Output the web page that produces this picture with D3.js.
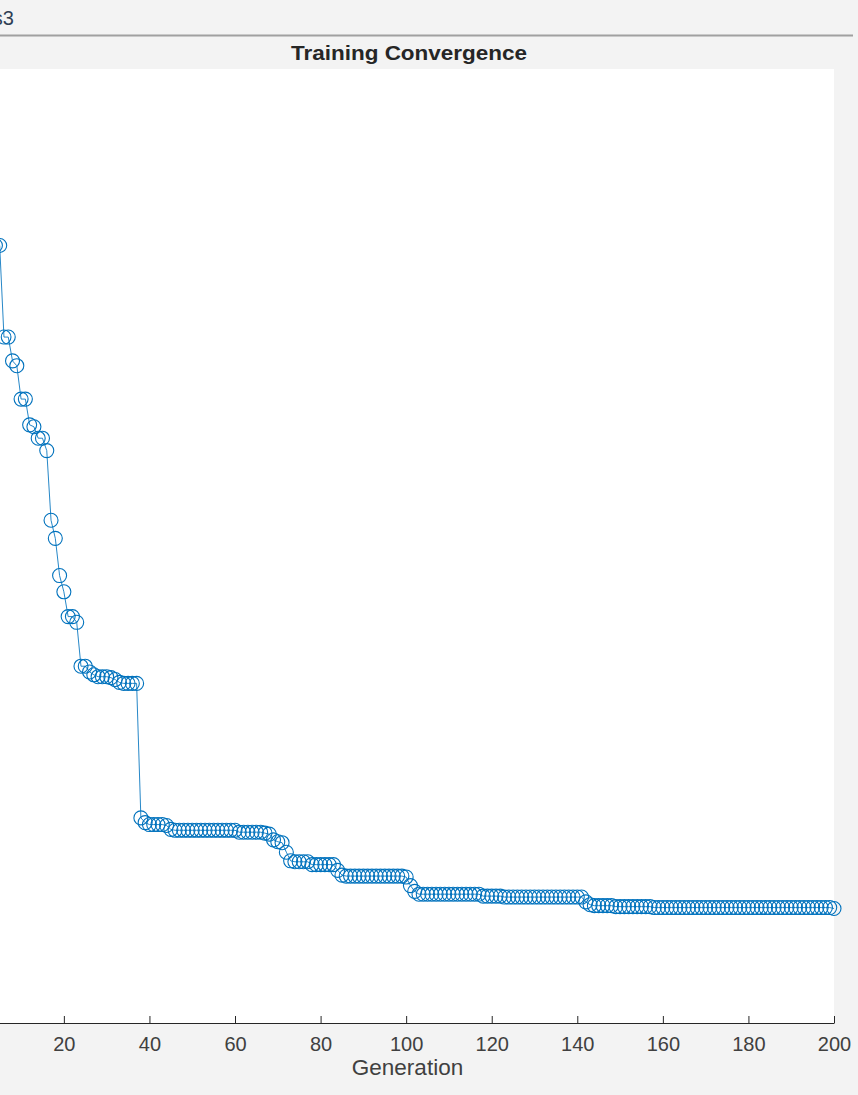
<!DOCTYPE html>
<html>
<head>
<meta charset="utf-8">
<script src="https://cdn.jsdelivr.net/npm/d3@7"></script>
<style>
  html, body { margin: 0; padding: 0; background: #f3f3f3; overflow: hidden; }
  svg { display: block; }
  text { font-family: "Liberation Sans", Arial, Helvetica, sans-serif; }
</style>
</head>
<body>
<svg id="chart" width="858" height="1095"></svg>
<script>
// Best fitness per generation of the genetic search
const bestFitness = [
  9.15, 8.57, 8.15, 8.15, 8.15, 7.19, 7.19, 6.94, 6.89, 6.54,
  6.54, 6.27, 6.25, 6.13, 6.13, 6.00, 5.27, 5.08, 4.69, 4.52,
  4.26, 4.26, 4.20, 3.74, 3.74, 3.68, 3.65, 3.63, 3.63, 3.63,
  3.62, 3.60, 3.57, 3.56, 3.56, 3.56, 3.56, 2.15, 2.10, 2.08,
  2.08, 2.08, 2.08, 2.07, 2.03, 2.02, 2.02, 2.02, 2.02, 2.02,
  2.02, 2.02, 2.02, 2.02, 2.02, 2.02, 2.02, 2.02, 2.02, 2.02,
  2.00, 2.00, 2.00, 2.00, 2.00, 2.00, 1.99, 1.98, 1.92, 1.90,
  1.89, 1.79, 1.70, 1.69, 1.69, 1.69, 1.69, 1.66, 1.66, 1.66,
  1.66, 1.66, 1.66, 1.60, 1.55, 1.54, 1.54, 1.54, 1.54, 1.54,
  1.54, 1.54, 1.54, 1.54, 1.54, 1.54, 1.54, 1.54, 1.54, 1.53,
  1.44, 1.38, 1.35, 1.35, 1.35, 1.35, 1.35, 1.35, 1.35, 1.35,
  1.35, 1.35, 1.35, 1.35, 1.35, 1.35, 1.35, 1.33, 1.33, 1.33,
  1.33, 1.33, 1.32, 1.32, 1.32, 1.32, 1.32, 1.32, 1.32, 1.32,
  1.32, 1.32, 1.32, 1.32, 1.32, 1.32, 1.32, 1.32, 1.32, 1.32,
  1.32, 1.27, 1.24, 1.23, 1.23, 1.23, 1.23, 1.23, 1.22, 1.22,
  1.22, 1.22, 1.22, 1.22, 1.22, 1.22, 1.22, 1.21, 1.21, 1.21,
  1.21, 1.21, 1.21, 1.21, 1.21, 1.21, 1.21, 1.21, 1.21, 1.21,
  1.21, 1.21, 1.21, 1.21, 1.21, 1.21, 1.21, 1.21, 1.21, 1.21,
  1.21, 1.21, 1.21, 1.21, 1.21, 1.21, 1.21, 1.21, 1.21, 1.21,
  1.21, 1.21, 1.21, 1.21, 1.21, 1.21, 1.21, 1.21, 1.21, 1.20
];
const generations = d3.range(1, bestFitness.length + 1);
const xTicks = [20, 40, 60, 80, 100, 120, 140, 160, 180, 200];
const xDomain = [0, 200];
const yDomain = [0, 10];

const titleText = "Training Convergence";
const xLabelText = "Generation";
const tabText = "Axes3";

const svg = d3.select("#chart");
const W = 858, H = 1095;

// Axes box (left edge lies just outside the visible window)
const plot = { left: -21.7, right: 834, top: 69, bottom: 1023 };

const x = d3.scaleLinear().domain(xDomain).range([plot.left, plot.right]);
const y = d3.scaleLinear().domain(yDomain).range([plot.bottom, plot.top]);

// Window background
svg.append("rect").attr("x", 0).attr("y", 0).attr("width", W).attr("height", H).attr("fill", "#f3f3f3");

// Tab strip label and separator
svg.append("text")
  .attr("x", 14).attr("y", 25)
  .attr("text-anchor", "end")
  .attr("font-size", 20)
  .attr("fill", "#2f3f55")
  .text(tabText);
svg.append("line")
  .attr("x1", 0).attr("x2", 853).attr("y1", 35.5).attr("y2", 35.5)
  .attr("stroke", "#a0a0a0").attr("stroke-width", 2);

// Axes background
svg.append("rect")
  .attr("x", plot.left).attr("y", plot.top)
  .attr("width", plot.right - plot.left).attr("height", plot.bottom - plot.top)
  .attr("fill", "#ffffff");

// Title
svg.append("text")
  .attr("x", 409).attr("y", 59.5)
  .attr("text-anchor", "middle")
  .attr("font-size", 21).attr("font-weight", "bold")
  .attr("fill", "#262626")
  .attr("textLength", 236).attr("lengthAdjust", "spacingAndGlyphs")
  .text(titleText);

// X axis (ticks point inward)
const xAxis = d3.axisBottom(x)
  .tickValues(xTicks)
  .tickSizeInner(-7)
  .tickSizeOuter(0)
  .tickPadding(0)
  .tickFormat(d3.format("d"));
const gx = svg.append("g")
  .attr("transform", `translate(0,${plot.bottom})`)
  .call(xAxis);
gx.select(".domain").attr("stroke", "#262626").attr("stroke-width", 1);
gx.selectAll(".tick line").attr("stroke", "#262626").attr("stroke-width", 1);
gx.selectAll(".tick text")
  .attr("y", 28).attr("dy", 0)
  .attr("font-size", 20)
  .attr("font-family", "Liberation Sans, Arial, sans-serif")
  .attr("fill", "#404040");

// Y axis line at the left edge of the axes
svg.append("line")
  .attr("x1", plot.left).attr("x2", plot.left)
  .attr("y1", plot.top).attr("y2", plot.bottom)
  .attr("stroke", "#262626");

// X label
svg.append("text")
  .attr("x", 407.5).attr("y", 1075)
  .attr("text-anchor", "middle")
  .attr("font-size", 22.5)
  .attr("fill", "#404040")
  .text(xLabelText);

// Convergence curve
const pts = generations.map((g, i) => ({ g, v: bestFitness[i] }));
const line = d3.line().x(d => x(d.g)).y(d => y(d.v));
svg.append("path")
  .datum(pts)
  .attr("d", line)
  .attr("fill", "none")
  .attr("stroke", "#0072BD")
  .attr("stroke-width", 1)
  .attr("stroke-opacity", 0.85);

svg.append("g")
  .selectAll("circle")
  .data(pts)
  .join("circle")
  .attr("cx", d => x(d.g))
  .attr("cy", d => y(d.v))
  .attr("r", 7)
  .attr("fill", "none")
  .attr("stroke", "#0072BD")
  .attr("stroke-width", 1.1);
</script>
</body>
</html>
